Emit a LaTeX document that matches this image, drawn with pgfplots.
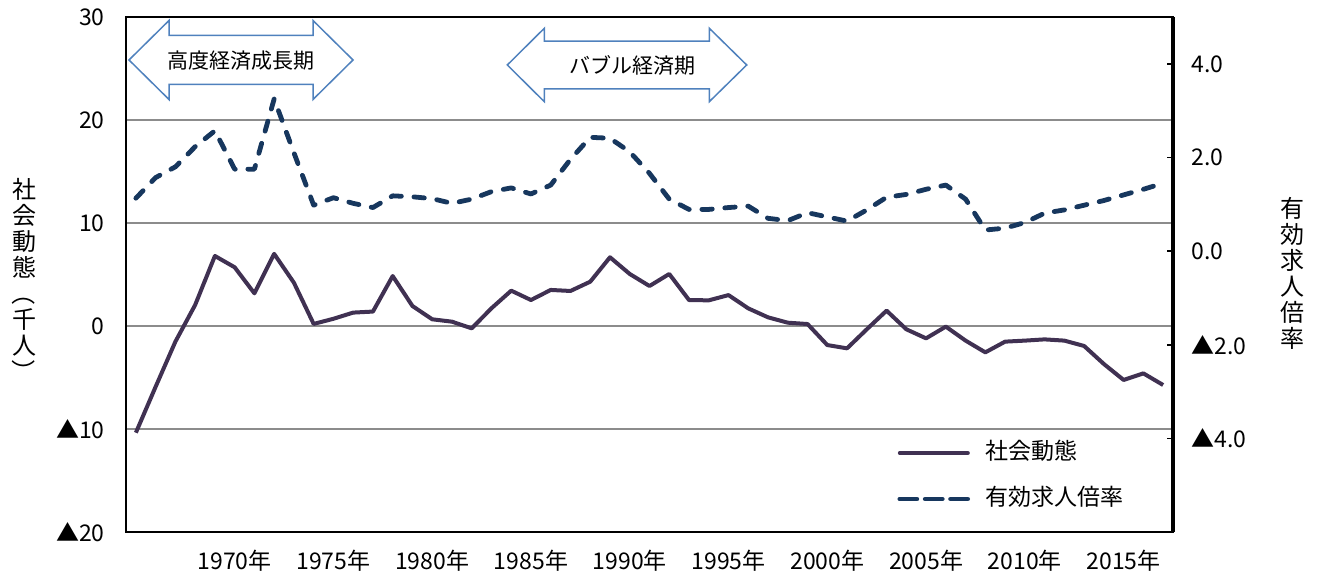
\documentclass[border=0pt]{standalone}
\usepackage{fontspec}
\setmainfont{Noto Sans CJK JP}
\usepackage{graphicx}
\usepackage{pgfplots}
\pgfplotsset{compat=1.18}
\definecolor{socline}{HTML}{403152}
\definecolor{ratioline}{HTML}{17375E}
\definecolor{arrowblue}{HTML}{4F81BD}
\definecolor{gridgray}{HTML}{8C8C8C}

\pgfplotstableread{
year val
1965 -10.36
1966 -5.9
1967 -1.52
1968 2.04
1969 6.8
1970 5.7
1971 3.17
1972 7.0
1973 4.2
1974 0.2
1975 0.7
1976 1.3
1977 1.4
1978 4.85
1979 1.94
1980 0.65
1981 0.42
1982 -0.23
1983 1.72
1984 3.43
1985 2.52
1986 3.5
1987 3.4
1988 4.3
1989 6.67
1990 5.05
1991 3.88
1992 5.05
1993 2.52
1994 2.49
1995 3.0
1996 1.71
1997 0.84
1998 0.32
1999 0.19
2000 -1.85
2001 -2.17
2002 -0.32
2003 1.49
2004 -0.32
2005 -1.2
2006 -0.06
2007 -1.42
2008 -2.56
2009 -1.52
2010 -1.42
2011 -1.3
2012 -1.42
2013 -1.94
2014 -3.69
2015 -5.24
2016 -4.6
2017 -5.73
}\social

\pgfplotstableread{
year val
1965 1.13
1966 1.57
1967 1.80
1968 2.23
1969 2.57
1970 1.75
1971 1.75
1972 3.25
1973 2.1
1974 0.98
1975 1.14
1976 1.02
1977 0.93
1978 1.18
1979 1.16
1980 1.12
1981 1.02
1982 1.11
1983 1.27
1984 1.35
1985 1.22
1986 1.41
1987 1.96
1988 2.43
1989 2.41
1990 2.12
1991 1.66
1992 1.11
1993 0.89
1994 0.89
1995 0.93
1996 0.96
1997 0.70
1998 0.65
1999 0.82
2000 0.73
2001 0.64
2002 0.88
2003 1.15
2004 1.21
2005 1.32
2006 1.41
2007 1.11
2008 0.45
2009 0.49
2010 0.61
2011 0.81
2012 0.88
2013 0.98
2014 1.08
2015 1.20
2016 1.32
2017 1.45
}\ratio

\newcommand{\vparL}{\rotatebox[origin=c]{-90}{（}}
\newcommand{\vparR}{\rotatebox[origin=c]{-90}{）}}

\begin{document}
\begin{tikzpicture}
\useasboundingbox (-63pt,-22pt) rectangle (598pt,266pt);
\begin{axis}[
  at={(0,0)}, anchor=south west,
  scale only axis, width=523.5pt, height=257.5pt,
  xmin=1964.5, xmax=2017.5, ymin=-20, ymax=30,
  xtick={1970,1975,...,2015},
  xticklabels={1970年,1975年,1980年,1985年,1990年,1995年,2000年,2005年,2010年,2015年},
  ytick={-20,-10,0,10,20,30},
  yticklabels={▲20,▲10,0,10,20,30},
  major tick length=0pt,
  ymajorgrids,
  grid style={gridgray, line width=0.9pt},
  axis line style={black, line width=0.9pt},
  tick label style={font=\fontsize{11.5}{13}\selectfont, inner sep=0pt},
  xticklabel style={anchor=center, yshift=-14.5pt},
  yticklabel style={anchor=east, xshift=-10.5pt},
  every axis y label/.style={at={(axis description cs:-0.0974,0.487)}, anchor=center, align=center, font=\fontsize{12}{13}\selectfont},
  ylabel={社\\会\\動\\態\\\vparL\\千\\人\\\vparR},
]
\addplot[socline, line width=2pt, line join=round] table[x=year, y=val] {\social};
\end{axis}

\begin{axis}[
  at={(0,0)}, anchor=south west,
  scale only axis, width=523.5pt, height=257.5pt,
  xmin=1964.5, xmax=2017.5, ymin=-6, ymax=5,
  axis x line=none,
  axis y line*=right,
  ytick={-4,-2,0,2,4},
  yticklabels={▲4.0,▲2.0,0.0,2.0,4.0},
  tick align=inside, major tick length=3pt,
  tick style={black, line width=0.8pt},
  axis line style={black, line width=1.8pt},
  tick label style={font=\fontsize{11.5}{13}\selectfont, inner sep=0pt},
  yticklabel style={anchor=west, xshift=9pt},
  every axis y label/.style={at={(axis description cs:1.1146,0.503)}, anchor=center, align=center, font=\fontsize{12}{13}\selectfont},
  ylabel={有\\効\\求\\人\\倍\\率},
  legend style={draw=none, fill=none, at={(axis description cs:0.7364,0.1087)}, anchor=west,
    font=\fontsize{11.5}{13}\selectfont, row sep=11pt, column sep=7.5pt,
    inner sep=0pt, nodes={inner sep=0pt, text height=9pt, text depth=3pt}},
  legend cell align=left,
  legend image code/.code={\draw[#1] (0pt,0pt) -- (34pt,0pt);},
]
\addlegendimage{socline, line width=2pt, line cap=round}
\addlegendentry{社会動態}
\addlegendimage{ratioline, line width=2.4pt, line cap=round, dash pattern=on 8.5pt off 4.2pt}
\addlegendentry{有効求人倍率}
\addplot[ratioline, line width=2.4pt, line cap=round, line join=round, dash pattern=on 5.2pt off 6.3pt, forget plot] table[x=year, y=val] {\ratio};
\end{axis}

% period annotations
\draw[arrowblue, line width=0.75pt, fill=white, line join=miter]
  (1.5pt,236pt) -- (21.5pt,255.75pt) -- (21.5pt,248.25pt) -- (93.5pt,248.25pt) -- (93.5pt,255.75pt) -- (113.5pt,236pt)
  -- (93.5pt,216.25pt) -- (93.5pt,223.75pt) -- (21.5pt,223.75pt) -- (21.5pt,216.25pt) -- cycle;
\node[font=\fontsize{10.5}{12}\selectfont, text=black] at (57.5pt,235.5pt) {高度経済成長期};
\draw[arrowblue, line width=0.75pt, fill=white, line join=miter]
  (190.65pt,233.5pt) -- (209.15pt,251.85pt) -- (209.15pt,245.4pt) -- (291.65pt,245.4pt) -- (291.65pt,251.85pt) -- (310.35pt,233.5pt)
  -- (291.65pt,215.15pt) -- (291.65pt,221.6pt) -- (209.15pt,221.6pt) -- (209.15pt,215.15pt) -- cycle;
\node[font=\fontsize{10.5}{12}\selectfont, text=black] at (253pt,233.5pt) {バブル経済期};
\end{tikzpicture}
\end{document}
